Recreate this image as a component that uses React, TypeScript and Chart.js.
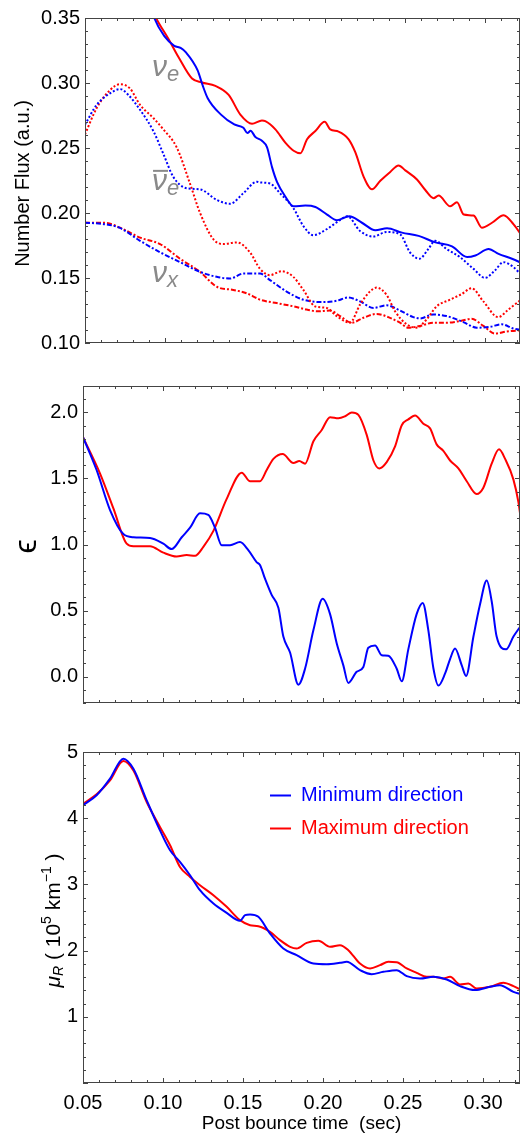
import React, { useEffect, useRef } from "react";
import { Chart, registerables } from "chart.js";
Chart.register(...registerables);

const FONT = '"Liberation Sans", Arial, Helvetica, "DejaVu Sans", sans-serif';
const BLUE = "#0000ff";
const RED = "#ff0000";
const GRAY = "#8a8a8a";
const FRAME = "#444444";

// ---------- Panel 1: number flux ----------
const nueMinT = [0.0905, 0.0933, 0.0996, 0.1058, 0.110, 0.1131, 0.1204, 0.1235, 0.1267, 0.135, 0.1433, 0.149, 0.1515, 0.1535, 0.1565, 0.1606, 0.1638, 0.1669, 0.170, 0.1752, 0.1804, 0.1877, 0.194, 0.2013, 0.2075, 0.2152, 0.2231, 0.2315, 0.2388, 0.2481, 0.2585, 0.269, 0.2794, 0.2888, 0.294, 0.3023, 0.3085, 0.3169, 0.3238];
const nueMinV = [0.362, 0.35, 0.336, 0.3286, 0.3268, 0.3235, 0.3097, 0.2983, 0.2883, 0.2757, 0.2681, 0.2655, 0.2615, 0.2632, 0.2585, 0.2555, 0.2505, 0.2353, 0.224, 0.2127, 0.2051, 0.2057, 0.2046, 0.1988, 0.1945, 0.1975, 0.1925, 0.1867, 0.1882, 0.1849, 0.1824, 0.1774, 0.1744, 0.1661, 0.1673, 0.1723, 0.1685, 0.1648, 0.161];

const nueMaxT = [0.090, 0.0944, 0.1023, 0.1085, 0.1169, 0.1231, 0.1315, 0.1398, 0.1471, 0.1544, 0.1606, 0.1627, 0.169, 0.1752, 0.1804, 0.1846, 0.1888, 0.194, 0.1998, 0.2033, 0.2085, 0.2148, 0.219, 0.2242, 0.2294, 0.2346, 0.2408, 0.246, 0.2502, 0.2575, 0.2627, 0.2679, 0.271, 0.2783, 0.2825, 0.2867, 0.2929, 0.2981, 0.3044, 0.3117, 0.3179, 0.3238];
const nueMaxV = [0.362, 0.35, 0.3336, 0.3198, 0.3034, 0.3004, 0.2978, 0.2908, 0.2757, 0.2686, 0.2711, 0.2706, 0.2643, 0.2542, 0.2479, 0.2459, 0.2567, 0.2631, 0.2701, 0.2643, 0.2626, 0.2567, 0.2466, 0.2278, 0.2182, 0.2248, 0.2316, 0.2366, 0.2328, 0.2258, 0.2177, 0.2114, 0.2134, 0.2051, 0.2082, 0.1988, 0.198, 0.1887, 0.1925, 0.1983, 0.1912, 0.1811];

const nuebMinT = [0.05, 0.0573, 0.0656, 0.0719, 0.0771, 0.0844, 0.0927, 0.099, 0.1052, 0.1135, 0.1219, 0.1323, 0.1406, 0.149, 0.1573, 0.1594, 0.1656, 0.1719, 0.1802, 0.1865, 0.1927, 0.201, 0.2094, 0.214, 0.2219, 0.2302, 0.2385, 0.2469, 0.2531, 0.259, 0.2646, 0.2688, 0.276, 0.2844, 0.2927, 0.300, 0.3063, 0.3115, 0.3177, 0.3238];
const nuebMinV = [0.268, 0.2832, 0.292, 0.2953, 0.2908, 0.2794, 0.2631, 0.2454, 0.2278, 0.219, 0.2182, 0.2101, 0.2071, 0.2152, 0.224, 0.2235, 0.2227, 0.2152, 0.2038, 0.19, 0.1829, 0.1875, 0.1945, 0.1975, 0.1862, 0.1819, 0.1854, 0.1837, 0.1698, 0.1648, 0.1723, 0.1786, 0.1723, 0.166, 0.1572, 0.1501, 0.1559, 0.1622, 0.1585, 0.1509];

const nuebMaxT = [0.05, 0.0573, 0.0656, 0.0719, 0.0781, 0.0844, 0.0927, 0.099, 0.1073, 0.1156, 0.1219, 0.1302, 0.1365, 0.1448, 0.1531, 0.1594, 0.1656, 0.1729, 0.1802, 0.1865, 0.1938, 0.201, 0.2073, 0.2156, 0.2219, 0.2281, 0.2323, 0.2385, 0.2438, 0.251, 0.2573, 0.2635, 0.2698, 0.2781, 0.2854, 0.2917, 0.299, 0.3083, 0.3146, 0.3238];
const nuebMaxV = [0.2605, 0.2807, 0.2945, 0.2991, 0.2958, 0.2832, 0.2731, 0.2643, 0.2505, 0.2227, 0.2001, 0.1799, 0.1761, 0.1774, 0.1698, 0.157, 0.1522, 0.1552, 0.1509, 0.1408, 0.1282, 0.127, 0.1207, 0.1156, 0.1295, 0.1396, 0.1426, 0.137, 0.1244, 0.1144, 0.1118, 0.1181, 0.1282, 0.1333, 0.1376, 0.1421, 0.132, 0.1199, 0.1257, 0.1345];

const nuxMinT = [0.05, 0.06, 0.0715, 0.0844, 0.0969, 0.1094, 0.1219, 0.1323, 0.1406, 0.149, 0.1573, 0.1594, 0.1656, 0.176, 0.1865, 0.199, 0.2073, 0.2146, 0.2219, 0.2302, 0.2385, 0.2469, 0.2552, 0.2594, 0.2677, 0.276, 0.2865, 0.2948, 0.3031, 0.3104, 0.3177, 0.3238];
const nuxMinV = [0.1925, 0.1917, 0.1887, 0.1786, 0.1698, 0.1622, 0.1547, 0.1509, 0.1496, 0.1534, 0.1534, 0.1534, 0.1484, 0.1396, 0.1333, 0.1315, 0.1325, 0.135, 0.132, 0.127, 0.129, 0.125, 0.1199, 0.1189, 0.1219, 0.1207, 0.1161, 0.1118, 0.1124, 0.1144, 0.1111, 0.1098];

const nuxMaxT = [0.05, 0.0621, 0.0719, 0.0844, 0.0969, 0.1094, 0.1219, 0.1323, 0.1427, 0.151, 0.1573, 0.1594, 0.1698, 0.1802, 0.1885, 0.1958, 0.2031, 0.2094, 0.2167, 0.224, 0.2323, 0.2396, 0.2469, 0.2521, 0.2594, 0.2677, 0.276, 0.2844, 0.2917, 0.299, 0.3063, 0.3135, 0.3238];
const nuxMaxV = [0.1925, 0.1925, 0.1887, 0.1811, 0.1761, 0.1648, 0.1547, 0.1433, 0.1408, 0.1383, 0.1345, 0.1333, 0.1307, 0.1282, 0.1257, 0.1244, 0.125, 0.1207, 0.1156, 0.1194, 0.1224, 0.1199, 0.1156, 0.1118, 0.1131, 0.1156, 0.1156, 0.1169, 0.1186, 0.1131, 0.1073, 0.1088, 0.1098];

// ---------- Panel 2: epsilon ----------
const epsMinT = [0.05, 0.0585, 0.0669, 0.0752, 0.0815, 0.0919, 0.1002, 0.1054, 0.1117, 0.1169, 0.1231, 0.1283, 0.1325, 0.1367, 0.1419, 0.1481, 0.1533, 0.1586, 0.1606, 0.1638, 0.1679, 0.1721, 0.1752, 0.1794, 0.1846, 0.1888, 0.194, 0.1998, 0.2044, 0.2085, 0.2127, 0.2158, 0.221, 0.2252, 0.2283, 0.2325, 0.2367, 0.2408, 0.246, 0.2492, 0.2533, 0.2585, 0.2623, 0.2658, 0.269, 0.2721, 0.2763, 0.2794, 0.2825, 0.2867, 0.2894, 0.294, 0.2981, 0.3023, 0.3054, 0.3085, 0.3144, 0.319, 0.3238];
const epsMinV = [1.813, 1.564, 1.261, 1.079, 1.055, 1.05, 1.006, 0.965, 1.055, 1.127, 1.236, 1.224, 1.127, 0.994, 0.994, 1.018, 0.958, 0.865, 0.845, 0.739, 0.618, 0.521, 0.303, 0.182, -0.061, 0.061, 0.352, 0.589, 0.473, 0.255, 0.085, -0.048, 0.036, 0.073, 0.218, 0.235, 0.162, 0.158, 0.061, -0.036, 0.206, 0.473, 0.558, 0.352, 0.061, -0.068, 0.024, 0.133, 0.213, 0.085, 0.005, 0.303, 0.545, 0.727, 0.57, 0.303, 0.206, 0.303, 0.388];

const epsMaxT = [0.05, 0.0606, 0.069, 0.0773, 0.0815, 0.0919, 0.1002, 0.1085, 0.1148, 0.12, 0.1252, 0.1315, 0.1398, 0.1492, 0.1544, 0.1606, 0.1648, 0.169, 0.1748, 0.1815, 0.1852, 0.1888, 0.194, 0.1992, 0.2044, 0.2096, 0.2138, 0.218, 0.2221, 0.2273, 0.2315, 0.2351, 0.2398, 0.2451, 0.2492, 0.2533, 0.2575, 0.2627, 0.2669, 0.271, 0.2752, 0.2794, 0.2846, 0.2898, 0.296, 0.3002, 0.3054, 0.31, 0.3138, 0.319, 0.3221, 0.3238];
const epsMaxV = [1.813, 1.539, 1.273, 1.006, 0.987, 0.987, 0.938, 0.909, 0.921, 0.914, 0.982, 1.103, 1.345, 1.544, 1.479, 1.479, 1.564, 1.648, 1.685, 1.617, 1.632, 1.612, 1.782, 1.867, 1.964, 1.956, 1.971, 2.0, 1.981, 1.83, 1.636, 1.576, 1.624, 1.745, 1.903, 1.947, 1.976, 1.915, 1.879, 1.758, 1.709, 1.636, 1.576, 1.479, 1.382, 1.43, 1.612, 1.721, 1.648, 1.491, 1.321, 1.176];

// ---------- Panel 3: mu_R ----------
const muMinT = [0.05, 0.0585, 0.0669, 0.0752, 0.0815, 0.0898, 0.0981, 0.1044, 0.1106, 0.1169, 0.1231, 0.1315, 0.1398, 0.1481, 0.1513, 0.1544, 0.1596, 0.1669, 0.1752, 0.1835, 0.194, 0.2023, 0.2106, 0.2148, 0.2231, 0.2304, 0.2377, 0.246, 0.2523, 0.2606, 0.269, 0.2773, 0.2856, 0.295, 0.3044, 0.3106, 0.319, 0.3238];
const muMinV = [4.195, 4.346, 4.597, 4.899, 4.747, 4.27, 3.817, 3.516, 3.34, 3.138, 2.912, 2.711, 2.57, 2.45, 2.535, 2.545, 2.51, 2.258, 2.031, 1.931, 1.805, 1.795, 1.815, 1.83, 1.705, 1.644, 1.679, 1.705, 1.614, 1.579, 1.604, 1.564, 1.463, 1.403, 1.453, 1.478, 1.377, 1.341];

const muMaxT = [0.05, 0.0585, 0.0669, 0.0752, 0.0815, 0.0898, 0.0981, 0.1044, 0.1106, 0.1169, 0.1231, 0.1315, 0.1398, 0.1481, 0.1544, 0.1596, 0.1669, 0.1731, 0.1794, 0.1835, 0.1898, 0.1971, 0.2044, 0.2106, 0.2158, 0.2231, 0.2294, 0.2356, 0.2408, 0.246, 0.2523, 0.2585, 0.2648, 0.269, 0.2752, 0.2794, 0.2856, 0.2908, 0.296, 0.3044, 0.3127, 0.319, 0.3238];
const muMaxV = [4.22, 4.36, 4.57, 4.864, 4.72, 4.245, 3.868, 3.591, 3.264, 3.113, 2.988, 2.837, 2.661, 2.46, 2.384, 2.369, 2.284, 2.158, 2.057, 2.031, 2.117, 2.148, 2.057, 2.082, 2.007, 1.805, 1.73, 1.78, 1.83, 1.825, 1.73, 1.664, 1.604, 1.604, 1.579, 1.604, 1.488, 1.503, 1.428, 1.453, 1.513, 1.463, 1.403];

// ---------- ticks ----------
const timeTicks = [0.05, 0.1, 0.15, 0.2, 0.25, 0.3];
const fluxTicks = [0.1, 0.15, 0.2, 0.25, 0.3, 0.35];
const epsTicks = [0, 0.5, 1.0, 1.5, 2.0];
const muTicks = [1, 2, 3, 4, 5];

const legendLabels = ["Minimum direction", "Maximum direction"];
const xTitle = "Post bounce time  (sec)";

type Seg = { text: string; size: number; italic?: boolean; dy?: number };

const frameTicks = {
  id: "frameTicks",
  afterDraw(chart: any, _a: any, o: any) {
    const { ctx, chartArea: a } = chart;
    const xs = chart.scales.x;
    const ys = chart.scales.y;
    ctx.save();
    ctx.strokeStyle = FRAME;
    ctx.lineWidth = 1;
    ctx.strokeRect(a.left + 0.5, a.top + 0.5, a.right - a.left - 1, a.bottom - a.top - 1);
    ctx.beginPath();
    const each = (min: number, max: number, step: number, fn: (v: number) => void) => {
      const i0 = Math.ceil(min / step - 1e-6);
      const i1 = Math.floor(max / step + 1e-6);
      for (let i = i0; i <= i1; i++) fn(i * step);
    };
    const xt = (step: number, len: number) =>
      each(xs.min, xs.max, step, (v) => {
        const p = Math.round(xs.getPixelForValue(v)) + 0.5;
        ctx.moveTo(p, a.top);
        ctx.lineTo(p, a.top + len);
        ctx.moveTo(p, a.bottom);
        ctx.lineTo(p, a.bottom - len);
      });
    const yt = (step: number, len: number) =>
      each(ys.min, ys.max, step, (v) => {
        const p = Math.round(ys.getPixelForValue(v)) + 0.5;
        ctx.moveTo(a.left, p);
        ctx.lineTo(a.left + len, p);
        ctx.moveTo(a.right, p);
        ctx.lineTo(a.right - len, p);
      });
    xt(o.xMinor, 3);
    xt(o.xMajor, 5);
    yt(o.yMinor, 3);
    yt(o.yMajor, 5);
    ctx.stroke();
    ctx.restore();
  },
};

const yTitle = {
  id: "yTitle",
  afterDraw(chart: any, _a: any, o: any) {
    if (!o || !o.segs) return;
    const { ctx, chartArea: a } = chart;
    const segs: Seg[] = o.segs;
    const fontOf = (s: Seg) => `${s.italic ? "italic " : ""}${s.size}px ${FONT}`;
    ctx.save();
    let total = 0;
    segs.forEach((s) => {
      ctx.font = fontOf(s);
      total += ctx.measureText(s.text).width;
    });
    ctx.translate(o.x, (a.top + a.bottom) / 2 + (o.dy || 0));
    ctx.rotate(-Math.PI / 2);
    ctx.fillStyle = "#000";
    ctx.textBaseline = "middle";
    ctx.textAlign = "left";
    let x = -total / 2;
    segs.forEach((s) => {
      ctx.font = fontOf(s);
      ctx.fillText(s.text, x, s.dy || 0);
      x += ctx.measureText(s.text).width;
    });
    ctx.restore();
  },
};

const curveLabels = {
  id: "curveLabels",
  afterDraw(chart: any, _a: any, o: any) {
    if (!o || !o.items) return;
    const { ctx } = chart;
    const xs = chart.scales.x;
    const ys = chart.scales.y;
    ctx.save();
    ctx.fillStyle = GRAY;
    ctx.strokeStyle = GRAY;
    ctx.textBaseline = "alphabetic";
    o.items.forEach((it: any) => {
      const x = xs.getPixelForValue(it.t);
      const y = ys.getPixelForValue(it.v);
      ctx.font = `italic 30px ${FONT}`;
      ctx.fillText(it.main, x, y);
      const w = ctx.measureText(it.main).width;
      if (it.bar) {
        ctx.lineWidth = 2;
        ctx.beginPath();
        ctx.moveTo(x + 1, y - 19);
        ctx.lineTo(x + w + 1, y - 19);
        ctx.stroke();
      }
      ctx.font = `italic 22px ${FONT}`;
      ctx.fillText(it.sub, x + w, y + 5);
    });
    ctx.restore();
  },
};

const inLegend = {
  id: "inLegend",
  afterDraw(chart: any, _a: any, o: any) {
    if (!o || !o.show) return;
    const { ctx, chartArea: a } = chart;
    ctx.save();
    ctx.font = `20px ${FONT}`;
    ctx.textBaseline = "middle";
    chart.data.datasets.forEach((ds: any, i: number) => {
      const y = a.top + o.top + i * o.gap;
      ctx.strokeStyle = ds.borderColor;
      ctx.fillStyle = ds.borderColor;
      ctx.lineWidth = 2;
      ctx.beginPath();
      ctx.moveTo(a.left + o.left, y + 0.5);
      ctx.lineTo(a.left + o.left + 21, y + 0.5);
      ctx.stroke();
      ctx.fillText(ds.label, a.left + o.left + 31, y);
    });
    ctx.restore();
  },
};

function pts(t: number[], v: number[]) {
  return t.map((x, i) => ({ x, y: v[i] }));
}

function line(label: string, t: number[], v: number[], color: string, dash: number[] = []) {
  return {
    label,
    data: pts(t, v),
    borderColor: color,
    backgroundColor: color,
    borderWidth: 2,
    borderDash: dash,
    pointRadius: 0,
    cubicInterpolationMode: "monotone",
    fill: false,
  };
}

const DOT = [2, 2];
const DASHDOT = [5, 2, 2, 2];

function makeConfig(spec: any) {
  return {
    type: "line",
    data: { datasets: spec.datasets },
    options: {
      animation: false,
      responsive: false,
      events: [],
      layout: { padding: { top: spec.padTop, right: 1, left: 0, bottom: 0 } },
      scales: {
        x: {
          type: "linear",
          min: spec.xMin,
          max: spec.xMax,
          grid: { display: false, drawTicks: false },
          border: { display: false },
          afterBuildTicks: (s: any) => {
            s.ticks = timeTicks.map((v) => ({ value: v }));
          },
          ticks: {
            display: spec.showX,
            font: { family: FONT, size: 20 },
            color: "#000",
            padding: 8,
            maxRotation: 0,
            autoSkip: false,
            callback: (v: any) => Number(v).toFixed(2),
          },
          title: {
            display: spec.showX,
            text: xTitle,
            font: { family: FONT, size: 19 },
            color: "#000",
            padding: { top: 0, bottom: 5 },
          },
          afterFit: (s: any) => {
            s.height = spec.xHeight;
          },
        },
        y: {
          type: "linear",
          min: spec.yMin,
          max: spec.yMax,
          grid: { display: false, drawTicks: false },
          border: { display: false },
          afterBuildTicks: (s: any) => {
            s.ticks = spec.yTicks.map((v: number) => ({ value: v }));
          },
          ticks: {
            font: { family: FONT, size: 20 },
            color: "#000",
            padding: 5,
            callback: spec.yFmt,
          },
          afterFit: (s: any) => {
            s.width = spec.yWidth;
          },
        },
      },
      plugins: {
        legend: { display: false },
        tooltip: { enabled: false },
        frameTicks: { xMajor: 0.05, xMinor: 0.01, yMajor: spec.yMajor, yMinor: spec.yMinor },
        yTitle: spec.yTitle,
        curveLabels: spec.curveLabels || {},
        inLegend: spec.legend || {},
      },
    },
    plugins: [frameTicks, yTitle, curveLabels, inLegend],
  };
}

const panel1 = () =>
  makeConfig({
    padTop: 18,
    xHeight: 11,
    yWidth: 85,
    xMin: 0.05,
    xMax: 0.3219,
    yMin: 0.1,
    yMax: 0.35,
    yTicks: fluxTicks,
    yFmt: (v: any) => Number(v).toFixed(2),
    yMajor: 0.05,
    yMinor: 0.01,
    showX: false,
    datasets: [
      line("νe min", nueMinT, nueMinV, BLUE),
      line("νe max", nueMaxT, nueMaxV, RED),
      line("ν̄e min", nuebMinT, nuebMinV, BLUE, DOT),
      line("ν̄e max", nuebMaxT, nuebMaxV, RED, DOT),
      line("νx min", nuxMinT, nuxMinV, BLUE, DASHDOT),
      line("νx max", nuxMaxT, nuxMaxV, RED, DASHDOT),
    ],
    yTitle: { x: 23, dy: 3, segs: [{ text: "Number Flux (a.u.)", size: 20 }] },
    curveLabels: {
      items: [
        { t: 0.0919, v: 0.3054, main: "ν", sub: "e" },
        { t: 0.0919, v: 0.2178, main: "ν", sub: "e", bar: true },
        { t: 0.0919, v: 0.1468, main: "ν", sub: "x" },
      ],
    },
  });

const panel2 = () =>
  makeConfig({
    padTop: 26,
    xHeight: 4,
    yWidth: 83,
    xMin: 0.05,
    xMax: 0.3231,
    yMin: -0.2,
    yMax: 2.2,
    yTicks: epsTicks,
    yFmt: (v: any) => Number(v).toFixed(1),
    yMajor: 0.5,
    yMinor: 0.1,
    showX: false,
    datasets: [
      line(legendLabels[0], epsMinT, epsMinV, BLUE),
      line(legendLabels[1], epsMaxT, epsMaxV, RED),
    ],
    yTitle: { x: 27, dy: 2, segs: [{ text: "ϵ", size: 32 }] },
  });

const panel3 = () =>
  makeConfig({
    padTop: 32,
    xHeight: 57,
    yWidth: 83,
    xMin: 0.05,
    xMax: 0.3231,
    yMin: 0,
    yMax: 5,
    yTicks: muTicks,
    yFmt: (v: any) => String(Math.round(Number(v))),
    yMajor: 1,
    yMinor: 0.2,
    showX: true,
    datasets: [
      line(legendLabels[0], muMinT, muMinV, BLUE),
      line(legendLabels[1], muMaxT, muMaxV, RED),
    ],
    yTitle: {
      x: 54,
      dy: 3,
      segs: [
        { text: "μ", size: 21, italic: true },
        { text: "R", size: 14, italic: true, dy: 5 },
        { text: " ( 10", size: 21 },
        { text: "5", size: 14, dy: -7 },
        { text: " km", size: 21 },
        { text: "−1", size: 14, dy: -7 },
        { text: " )", size: 21 },
      ],
    },
    legend: { show: true, left: 187, top: 43, gap: 33 },
  });

function Panel({ top, height, make }: { top: number; height: number; make: () => any }) {
  const ref = useRef<HTMLCanvasElement>(null);
  useEffect(() => {
    const chart = new Chart(ref.current as HTMLCanvasElement, make());
    return () => chart.destroy();
  }, []);
  return (
    <canvas
      ref={ref}
      width={521}
      height={height}
      style={{ position: "absolute", left: 0, top, width: 521, height }}
    />
  );
}

export default function App() {
  return (
    <div style={{ position: "absolute", left: 0, top: 0, width: 521, height: 1140, background: "#fff" }}>
      <Panel top={0} height={360} make={panel1} />
      <Panel top={360} height={360} make={panel2} />
      <Panel top={720} height={420} make={panel3} />
    </div>
  );
}
